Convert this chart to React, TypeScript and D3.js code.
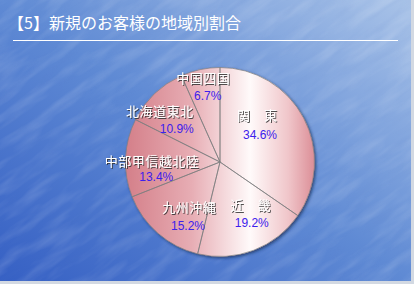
import React from 'react';
import * as d3 from 'd3';

// ---- data ----
const title = '【5】新規のお客様の地域別割合';
const regions = ['関　東', '近　畿', '九州沖縄', '中部甲信越北陸', '北海道東北', '中国四国'];
const shares = [34.6, 19.2, 15.2, 13.4, 10.9, 6.7];

// ---- layout (label nudges relative to slice centroid) ----
const nameOffsets: [number, number][] = [[-14.9, -19.6], [9.8, -12.1], [7.9, 0.2], [-9.1, 1.6], [-19.5, -8.6], [-4.4, -26.6]];
const pctOffsets: [number, number][] = [[-12.2, -0.1], [10.7, 5.9], [6.7, 19.5], [-4.8, 17.3], [-2.5, 9.6], [0, -9]];

const W = 414, H = 284;
const cx = 220, cy = 162, R = 94.5;

export default function App() {
  const pie = d3.pie<number>().sort(null).value(d => d)(shares);
  const arc = d3.arc<d3.PieArcDatum<number>>().innerRadius(0).outerRadius(R);
  const labelArc = d3.arc<d3.PieArcDatum<number>>().innerRadius(59).outerRadius(59);
  const fmt = (v: number) => d3.format('.1f')(v) + '%';

  return (
    <svg width={W} height={H} style={{ position: 'absolute', left: 0, top: 0, display: 'block' }}>
      <defs>
        <linearGradient id="bg" x1="0" y1="1" x2="1" y2="0">
          <stop offset="0%" stopColor="#3660c4" />
          <stop offset="50%" stopColor="#5f8ad4" />
          <stop offset="100%" stopColor="#a9c3e8" />
        </linearGradient>
        <filter id="tex" x="0" y="0" width="100%" height="100%">
          <feTurbulence type="fractalNoise" baseFrequency="0.02 0.09" numOctaves="3" seed="5" />
          <feColorMatrix type="matrix" values="0 0 0 0 1  0 0 0 0 1  0 0 0 0 1  1.0 0 0 0 -0.42" />
        </filter>
        <filter id="tex2" x="0" y="0" width="100%" height="100%">
          <feTurbulence type="fractalNoise" baseFrequency="0.025 0.12" numOctaves="2" seed="11" />
          <feColorMatrix type="matrix" values="0 0 0 0 0.1  0 0 0 0 0.2  0 0 0 0 0.55  0.9 0 0 0 -0.45" />
        </filter>
        <linearGradient id="pieFill" gradientUnits="userSpaceOnUse" x1={-R} y1="0" x2={R} y2="0">
          <stop offset="0%" stopColor="#d47f89" />
          <stop offset="35%" stopColor="#e7adb4" />
          <stop offset="66%" stopColor="#fffafa" />
          <stop offset="86%" stopColor="#f0c6ca" />
          <stop offset="100%" stopColor="#dc8e97" />
        </linearGradient>
        <filter id="pieShadow" x="-20%" y="-20%" width="140%" height="140%">
          <feDropShadow dx="1.5" dy="1.5" stdDeviation="1.5" floodColor="#10204a" floodOpacity="0.7" />
        </filter>
        <filter id="txtShadow" x="-20%" y="-40%" width="140%" height="180%">
          <feDropShadow dx="1" dy="1" stdDeviation="0.6" floodColor="#303030" floodOpacity="0.85" />
        </filter>
        <clipPath id="panel"><rect x={0} y={0} width={411} height={281} /></clipPath>
      </defs>

      <rect x={0} y={0} width={W} height={H} fill="#d3d9e2" />
      <g clipPath="url(#panel)">
        <rect x={0} y={0} width={411} height={281} fill="url(#bg)" />
        <g transform="rotate(-35 207 140)">
          <rect x={-150} y={-150} width={720} height={580} filter="url(#tex)" opacity={0.3} />
          <rect x={-150} y={-150} width={720} height={580} filter="url(#tex2)" opacity={0.25} />
        </g>
      </g>

      <text x={8} y={29} fill="#ffffff" fontFamily="'Noto Sans CJK JP', sans-serif" fontSize={16}>{title}</text>
      <line x1={13} x2={398} y1={40.5} y2={40.5} stroke="#ffffff" strokeWidth={1.2} />

      <g transform={`translate(${cx},${cy})`}>
        <g filter="url(#pieShadow)">
          {pie.map((p, i) => (
            <path key={'s' + i} d={arc(p) || ''} fill="url(#pieFill)" />
          ))}
        </g>
        {pie.map((p, i) => (
          <path key={'l' + i} d={arc(p) || ''} fill="none" stroke="#808080" strokeWidth={0.7} />
        ))}
        {pie.map((p, i) => {
          const [x, y] = labelArc.centroid(p);
          return (
            <g key={'t' + i}>
              <text x={x + nameOffsets[i][0]} y={y + nameOffsets[i][1]} dy="0.38em" textAnchor="middle"
                fill="#ffffff" fontFamily="'Noto Sans CJK JP', sans-serif" fontSize={13} letterSpacing={0.5}
                filter="url(#txtShadow)">{regions[i]}</text>
              <text x={x + pctOffsets[i][0]} y={y + pctOffsets[i][1]} dy="0.36em" textAnchor="middle"
                fill="#3d20ec" fontFamily="'Liberation Sans', Arial, sans-serif" fontSize={12}>{fmt(shares[i])}</text>
            </g>
          );
        })}
      </g>
    </svg>
  );
}
